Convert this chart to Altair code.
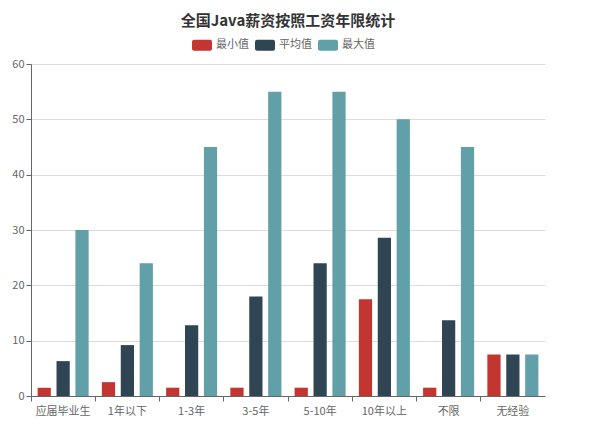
import altair as alt
import pandas as pd

categories = ["应届毕业生", "1年以下", "1-3年", "3-5年", "5-10年", "10年以上", "不限", "无经验"]
series = ["最小值", "平均值", "最大值"]
min_vals = [1.5, 2.5, 1.5, 1.5, 1.5, 17.5, 1.5, 7.5]
avg_vals = [6.3, 9.2, 12.8, 18, 24, 28.6, 13.7, 7.5]
max_vals = [30, 24, 45, 55, 55, 50, 45, 7.5]
colors = ["#c23531", "#2f4554", "#61a0a8"]

rows = []
for i, c in enumerate(categories):
    for s, vals in zip(series, [min_vals, avg_vals, max_vals]):
        rows.append({"cat": c, "series": s, "value": vals[i]})
df = pd.DataFrame(rows)

FONT = "Noto Sans CJK SC"
shape = ("M-0.8,-0.55 H0.8 Q1,-0.55 1,-0.35 V0.35 Q1,0.55 0.8,0.55 H-0.8 "
         "Q-1,0.55 -1,0.35 V-0.35 Q-1,-0.55 -0.8,-0.55 Z")

chart = alt.Chart(df).mark_bar().encode(
    x=alt.X("cat:N", sort=categories, title=None,
            scale=alt.Scale(paddingInner=0, paddingOuter=0),
            axis=alt.Axis(labelAngle=0, labelColor="#666", labelFontSize=11,
                          labelFont=FONT, ticks=True, bandPosition=0,
                          tickColor="#666", tickSize=5, domain=True,
                          domainColor="#666", labelPadding=4, grid=False)),
    xOffset=alt.XOffset("series:N", sort=series,
                        scale=alt.Scale(paddingInner=0.3, paddingOuter=0.35)),
    y=alt.Y("value:Q", title=None,
            scale=alt.Scale(domain=[0, 60]),
            axis=alt.Axis(values=[0, 10, 20, 30, 40, 50, 60], labelColor="#666",
                          labelFontSize=11, labelFont=FONT, domainColor="#666",
                          tickColor="#666", gridColor="#ddd", tickSize=5)),
    color=alt.Color("series:N", sort=series,
                    scale=alt.Scale(domain=series, range=colors),
                    legend=alt.Legend(title=None, orient="none", direction="horizontal",
                                      legendX=161, legendY=-29,
                                      symbolType=shape, symbolSize=400,
                                      symbolStrokeWidth=0, labelFont=FONT,
                                      labelFontSize=11, labelColor="#666",
                                      columnPadding=6, labelOffset=4)),
).properties(
    width=514, height=332,
    title=alt.TitleParams("全国Java薪资按照工资年限统计", font=FONT, fontSize=15,
                          fontWeight="bold", color="#333", anchor="middle", offset=6),
    padding={"left": 3, "top": 6, "right": 5, "bottom": 5},
).configure_view(stroke=None)

chart.save("out.html", embed_options={"renderer": "svg", "actions": False})
